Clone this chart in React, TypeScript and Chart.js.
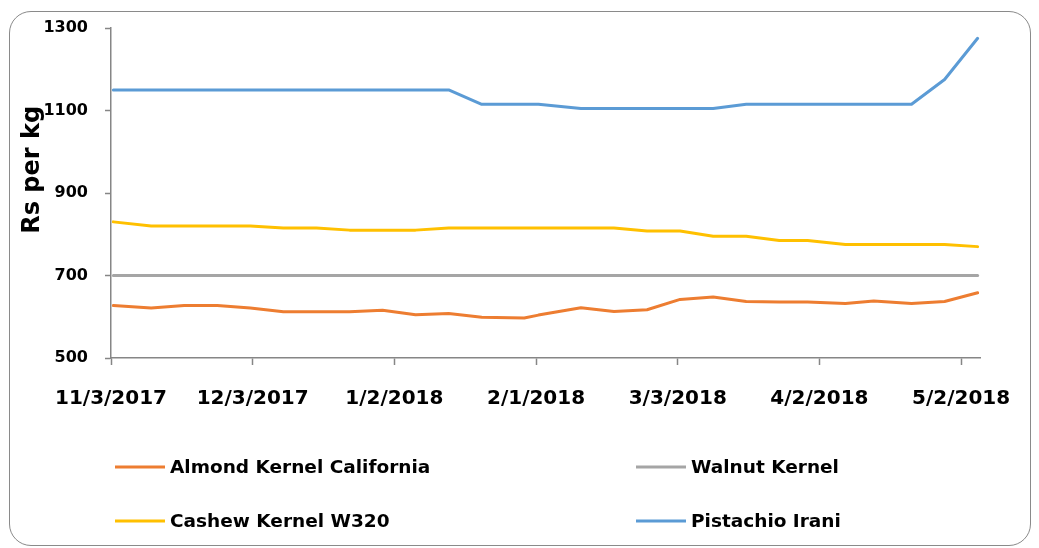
import { useEffect, useRef } from "react";
import { Chart, registerables } from "chart.js";

Chart.register(...registerables);

// ---- data ----
const baseDate = "2017-11-03";
const dates = [
  "2017-11-03", "2017-11-11", "2017-11-18", "2017-11-25", "2017-12-02", "2017-12-09",
  "2017-12-16", "2017-12-23", "2017-12-30", "2018-01-06", "2018-01-13", "2018-01-20",
  "2018-01-29", "2018-02-01", "2018-02-10", "2018-02-17", "2018-02-24", "2018-03-03",
  "2018-03-10", "2018-03-17", "2018-03-24", "2018-03-30", "2018-04-07", "2018-04-13",
  "2018-04-21", "2018-04-28", "2018-05-05",
];
const almond = [627, 621, 627, 627, 621, 612, 612, 612, 616, 605, 608, 599, 597, 604, 622, 613, 617, 642, 648, 637, 636, 636, 632, 638, 632, 637, 658];
const walnut = [700, 700, 700, 700, 700, 700, 700, 700, 700, 700, 700, 700, 700, 700, 700, 700, 700, 700, 700, 700, 700, 700, 700, 700, 700, 700, 700];
const cashew = [830, 820, 820, 820, 820, 815, 815, 810, 810, 810, 815, 815, 815, 815, 815, 815, 808, 808, 795, 795, 785, 785, 775, 775, 775, 775, 770];
const pistachio = [1150, 1150, 1150, 1150, 1150, 1150, 1150, 1150, 1150, 1150, 1150, 1115, 1115, 1115, 1105, 1105, 1105, 1105, 1105, 1115, 1115, 1115, 1115, 1115, 1115, 1175, 1275];
const seriesNames = ["Almond Kernel California", "Walnut Kernel", "Cashew Kernel W320", "Pistachio Irani"];
const seriesColors = ["#ED7D31", "#A5A5A5", "#FFC000", "#5B9BD5"];
const xTickDates = ["2017-11-03", "2017-12-03", "2018-01-02", "2018-02-01", "2018-03-03", "2018-04-02", "2018-05-02"];
const yTicks = [500, 700, 900, 1100, 1300];
const yTitle = "Rs per kg";

const DAY = 86400000;
const toMs = (s: string) => {
  const [y, m, d] = s.split("-").map(Number);
  return Date.UTC(y, m - 1, d);
};
const baseMs = toMs(baseDate);
const dayOf = (s: string) => Math.round((toMs(s) - baseMs) / DAY);
const fmtDay = (v: number) => {
  const dt = new Date(baseMs + Math.round(v) * DAY);
  return `${dt.getUTCMonth() + 1}/${dt.getUTCDate()}/${dt.getUTCFullYear()}`;
};
const lastDay = dayOf(dates[dates.length - 1]);

const FONT = "'DejaVu Sans', sans-serif";
const AXIS = "#868686";

export default function App() {
  const ref = useRef<HTMLCanvasElement | null>(null);

  useEffect(() => {
    if (!ref.current) return;
    const allSeries = [almond, walnut, cashew, pistachio];

    const extras = {
      id: "extras",
      afterDraw(chart: any) {
        const ctx = chart.ctx as CanvasRenderingContext2D;
        const area = chart.chartArea;
        ctx.save();
        // axis title
        ctx.translate(33, area.top + (area.bottom - area.top) * 0.43);
        ctx.rotate(-Math.PI / 2);
        ctx.font = `bold 24px ${FONT}`;
        ctx.fillStyle = "#000";
        ctx.textAlign = "center";
        ctx.textBaseline = "middle";
        ctx.fillText(yTitle, 0, 0);
        ctx.restore();

        // legend (2 columns x 2 rows)
        ctx.save();
        ctx.font = `bold 18.5px ${FONT}`;
        ctx.textBaseline = "middle";
        ctx.textAlign = "left";
        const colX = [115, 636];
        const rowY = [467, 521];
        seriesNames.forEach((name, i) => {
          const cx = colX[i % 2];
          const cy = rowY[Math.floor(i / 2)];
          ctx.strokeStyle = seriesColors[i];
          ctx.lineWidth = 3;
          ctx.beginPath();
          ctx.moveTo(cx, cy);
          ctx.lineTo(cx + 50, cy);
          ctx.stroke();
          ctx.fillStyle = "#000";
          ctx.fillText(name, cx + 55, cy + 1);
        });
        ctx.restore();
      },
    };

    const chart = new Chart(ref.current, {
      type: "line",
      data: {
        datasets: allSeries.map((vals, i) => ({
          label: seriesNames[i],
          data: dates.map((d, j) => ({ x: dayOf(d) + 0.5, y: vals[j] })),
          borderColor: seriesColors[i],
          backgroundColor: seriesColors[i],
          borderWidth: 3,
          pointRadius: 0,
          tension: 0,
          borderJoinStyle: "round",
          borderCapStyle: "round",
          fill: false,
          order: allSeries.length - i,
        })),
      },
      options: {
        animation: false,
        responsive: false,
        maintainAspectRatio: false,
        layout: { padding: { left: 0, top: 28, right: 59, bottom: 130 } },
        plugins: { legend: { display: false }, tooltip: { enabled: false }, title: { display: false } },
        scales: {
          x: {
            type: "linear",
            min: 0,
            max: lastDay + 1,
            afterBuildTicks: (s: any) => {
              s.ticks = xTickDates.map((d) => ({ value: dayOf(d) }));
            },
            afterFit: (s: any) => {
              s.height = 60;
            },
            grid: { drawOnChartArea: false, drawTicks: true, tickLength: 7, tickColor: AXIS, tickWidth: 1.5 },
            border: { display: true, color: AXIS, width: 1.5 },
            ticks: {
              color: "#000",
              font: { family: FONT, size: 20, weight: "bold" },
              padding: 22,
              maxRotation: 0,
              minRotation: 0,
              autoSkip: false,
              callback: (v: any) => fmtDay(Number(v)),
            },
          },
          y: {
            type: "linear",
            min: 500,
            max: 1300,
            afterBuildTicks: (s: any) => {
              s.ticks = yTicks.map((v) => ({ value: v }));
            },
            afterFit: (s: any) => {
              s.width = 111;
            },
            grid: { drawOnChartArea: false, drawTicks: true, tickLength: 6, tickColor: AXIS, tickWidth: 1.5 },
            border: { display: true, color: AXIS, width: 1.5 },
            ticks: {
              color: "#000",
              font: { family: FONT, size: 16, weight: "bold" },
              padding: 17,
              callback: (v: any) => String(v),
            },
          },
        },
      },
      plugins: [extras],
    } as any);

    return () => chart.destroy();
  }, []);

  return (
    <div style={{ position: "absolute", left: 0, top: 0, width: 1039, height: 548, background: "#fff" }}>
      <div
        style={{
          position: "absolute",
          left: 9,
          top: 11,
          width: 1022,
          height: 535,
          boxSizing: "border-box",
          border: "1.5px solid #8a8a8a",
          borderRadius: 22,
        }}
      />
      <canvas ref={ref} width={1039} height={548} style={{ position: "absolute", left: 0, top: 0 }} />
    </div>
  );
}
